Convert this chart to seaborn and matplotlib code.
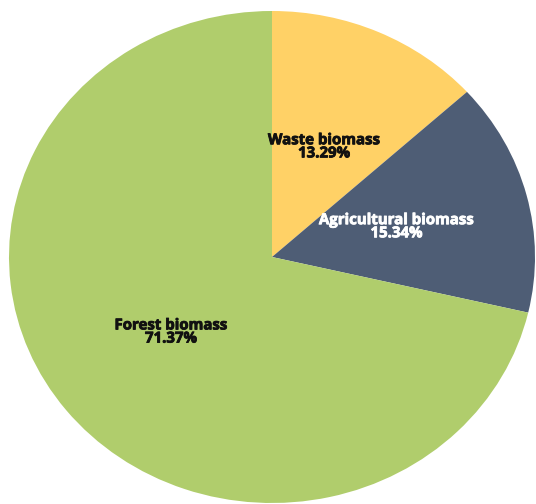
import matplotlib
matplotlib.use("Agg")
import matplotlib.pyplot as plt
import matplotlib.patheffects as pe
import seaborn as sns

# Share of biomass sources (percent)
categories = ["Waste biomass", "Agricultural biomass", "Forest biomass"]
shares = [13.29, 15.34, 71.37]
slice_colors = ["#FFD166", "#4E5D75", "#B0CD6C"]
label_colors = ["#111111", "#FFFFFF", "#111111"]

sns.set_theme(style="white")
plt.rcParams["font.family"] = ["Open Sans", "DejaVu Sans"]

fig = plt.figure(figsize=(5.36, 5.04), dpi=100)
ax = fig.add_axes([9 / 536, 1 / 504, 526 / 536, 492 / 504])

palette = sns.color_palette(slice_colors)
labels = [f"{c}\n{v:.2f}%" for c, v in zip(categories, shares)]
wedges, texts = ax.pie(
    shares,
    labels=labels,
    colors=palette,
    startangle=90,
    counterclock=False,
    labeldistance=0.49,
    wedgeprops=dict(linewidth=0),
    textprops=dict(fontsize=10.8, fontweight="bold", linespacing=0.92),
)
for t, col in zip(texts, label_colors):
    t.set_horizontalalignment("center")
    t.set_verticalalignment("center")
    t.set_color(col)
    # thicken the glyphs slightly for a heavier bold
    t.set_path_effects([pe.withStroke(linewidth=0.6, foreground=col)])

ax.set_aspect("auto")
ax.set_xlim(-1, 1)
ax.set_ylim(-1, 1)
ax.axis("off")

fig.savefig("out.png", dpi=100, facecolor="white")
